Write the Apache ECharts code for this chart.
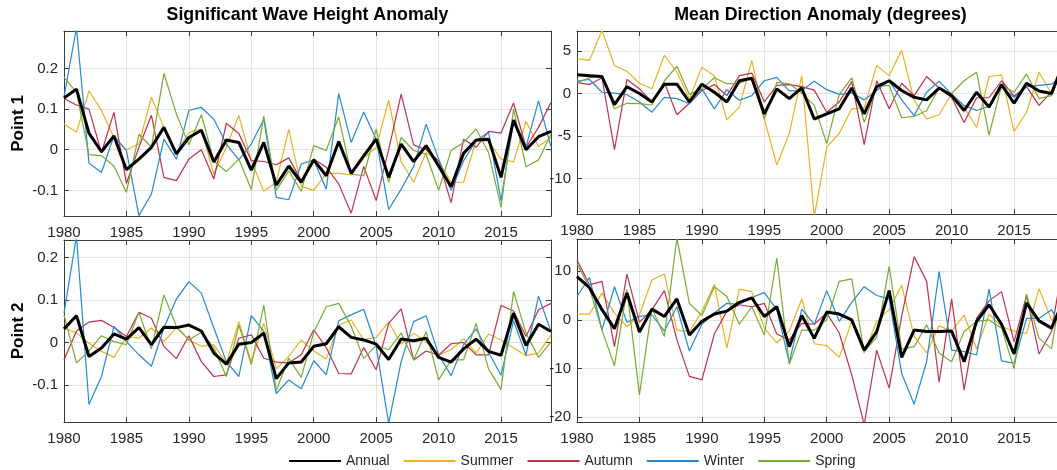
<!DOCTYPE html>
<html><head><meta charset="utf-8">
<script src="https://cdn.jsdelivr.net/npm/echarts@6/dist/echarts.min.js"></script>
<style>html,body{margin:0;padding:0;background:#fff}#c{width:1057px;height:470px}</style>
</head><body><div id="c"></div>
<script>
// ---------------- DATA ----------------
const years = [1980,1981,1982,1983,1984,1985,1986,1987,1988,1989,1990,1991,1992,1993,1994,1995,1996,1997,1998,1999,
               2000,2001,2002,2003,2004,2005,2006,2007,2008,2009,2010,2011,2012,2013,2014,2015,2016,2017,2018,2019];
const seriesNames = ['Annual','Summer','Autumn','Winter','Spring'];
const panelTitles = ['Significant Wave Height Anomaly','Mean Direction Anomaly (degrees)'];
const rowLabels = ['Point 1','Point 2'];
const xTicks = [1980,1985,1990,1995,2000,2005,2010,2015];
const hsTicksP1 = [-0.1,0,0.1,0.2];
const dirTicksP1 = [-10,-5,0,5];
const hsTicksP2 = [-0.1,0,0.1,0.2];
const dirTicksP2 = [-20,-10,0,10];

// Point 1 - Significant wave height anomaly
const hsP1Annual = [0.127,0.149,0.041,-0.005,0.034,-0.049,-0.023,0.006,0.055,-0.01,0.03,0.048,-0.03,0.024,0.018,-0.05,0.018,-0.087,-0.04,-0.08,
                    -0.025,-0.064,0.02,-0.058,-0.015,0.026,-0.068,0.014,-0.029,0.01,-0.04,-0.091,-0.009,0.024,0.026,-0.068,0.073,0.0,0.032,0.045];
const hsP1Summer = [0.063,0.043,0.145,0.096,0.03,0.0,0.014,0.129,0.055,-0.007,0.043,0.05,-0.06,0.006,0.084,-0.027,-0.102,-0.08,0.05,-0.09,
                    -0.1,-0.058,-0.058,-0.062,-0.02,0.005,0.122,-0.03,-0.08,-0.007,-0.027,-0.08,-0.08,0.022,0.022,-0.023,-0.03,0.07,0.008,0.03];
const hsP1Autumn = [0.126,0.11,0.1,-0.007,0.092,-0.083,0.006,0.085,-0.068,-0.076,-0.023,0.0,-0.072,0.065,0.04,-0.027,-0.029,-0.037,-0.02,-0.076,
                    -0.023,-0.043,-0.084,-0.156,-0.041,-0.125,0.0,0.137,0.012,0.0,-0.027,-0.13,0.026,0.006,0.045,0.041,0.115,0.006,0.055,0.116];
const hsP1Winter = [0.13,0.30,-0.033,-0.056,0.034,-0.002,-0.162,-0.109,0.026,-0.023,0.097,0.104,0.075,0.014,-0.025,0.014,0.075,-0.117,-0.123,-0.035,
                    -0.025,-0.097,0.138,0.018,0.093,0.026,-0.147,-0.097,-0.041,0.063,-0.023,-0.1,-0.027,0.022,0.043,-0.125,0.071,0.007,0.12,0.007];
const hsP1Spring = [0.178,0.141,-0.012,-0.015,-0.04,-0.105,0.038,0.006,0.188,0.088,0.012,0.086,-0.027,-0.054,-0.023,-0.098,0.083,-0.1,-0.052,-0.102,
                    0.01,-0.002,0.081,-0.06,-0.064,0.051,-0.08,0.03,-0.002,-0.011,-0.1,-0.002,0.018,0.051,-0.007,-0.142,0.1,-0.042,-0.025,0.038];

// Point 1 - Mean direction anomaly
const dirP1Annual = [2.2,2.1,2.0,-1.3,0.8,0.0,-1.0,1.1,1.1,-1.0,1.1,0.15,-1.0,1.5,1.8,-2.4,0.55,-0.6,0.65,-3.0,
                     -2.4,-1.8,0.65,-2.4,0.8,1.5,0.35,-0.45,-0.75,0.65,-0.25,-2.0,0.15,-1.6,1.05,-1.15,1.2,0.3,0.0,3.8];
const dirP1Summer = [4.1,3.9,7.4,3.3,2.6,1.2,0.55,4.5,2.5,-0.6,3.1,2.1,-3.1,-1.6,3.9,-3.0,-8.4,-4.7,2.1,-14.5,
                     -6.3,-4.7,-1.8,-1.7,3.3,2.1,5.1,-0.8,-3.0,-2.5,0.0,-1.6,-4.0,2.0,2.2,-4.5,-2.2,2.5,0.0,3.8];
const dirP1Autumn = [1.3,1.05,1.85,-6.6,1.65,0.55,-1.0,1.3,-2.5,-1.15,0.35,1.05,-0.25,2.1,2.4,-1.0,0.95,1.05,0.8,0.4,
                     -2.2,-1.0,1.4,-6.0,1.5,-1.8,1.2,-0.25,2.0,0.65,-0.45,-3.4,-0.5,-0.5,1.5,-0.3,0.8,-1.4,0.2,3.5];
const dirP1Winter = [1.45,1.65,0.15,0.05,-0.15,-1.0,-2.2,-0.45,-0.6,-1.2,0.55,-1.8,0.45,-0.8,-0.25,1.5,1.9,0.3,0.35,1.45,
                     0.45,-0.1,0.05,-0.75,0.35,1.5,-0.75,-2.6,0.15,1.45,-0.1,-1.4,-2.0,-1.5,0.75,-0.45,0.8,0.95,1.1,2.2];
const dirP1Spring = [1.3,1.85,2.0,-1.8,-1.15,-1.2,-1.35,1.5,3.2,-0.1,0.55,1.85,1.15,1.2,1.85,-3.0,1.3,1.15,0.05,-1.4,
                     -5.9,-0.1,1.85,-3.4,0.8,0.95,-2.85,-2.7,-2.0,0.65,0.0,1.5,2.5,-4.9,0.95,0.15,2.3,-0.6,-0.25,3.5];

// Point 2 - Significant wave height anomaly
const hsP2Annual = [0.032,0.063,-0.033,-0.013,0.02,0.008,0.035,-0.005,0.036,0.035,0.041,0.027,-0.025,-0.051,-0.004,0.0,0.022,-0.085,-0.048,-0.046,
                    -0.009,-0.003,0.037,0.012,0.006,-0.004,-0.04,0.008,0.004,0.01,-0.035,-0.046,-0.015,0.008,-0.021,-0.03,0.069,-0.007,0.043,0.026];
const hsP2Summer = [0.034,0.022,-0.002,-0.021,-0.035,0.014,0.01,0.034,0.002,0.035,0.006,-0.009,-0.005,-0.048,0.049,-0.046,0.045,-0.062,-0.033,0.006,
                    -0.02,-0.039,0.041,0.053,0.006,0.012,0.048,-0.004,0.022,0.002,-0.03,-0.017,0.009,-0.025,0.02,0.006,-0.013,-0.031,-0.025,0.018];
const hsP2Autumn = [-0.041,0.027,0.048,0.052,0.035,0.014,0.071,0.057,-0.009,-0.038,0.016,-0.045,-0.08,-0.076,0.01,0.018,-0.037,-0.046,-0.048,-0.029,
                    0.03,-0.012,-0.073,-0.074,-0.012,-0.064,0.045,0.079,-0.041,-0.02,-0.03,-0.003,0.0,-0.029,-0.029,0.087,0.074,0.014,0.077,0.092];
const hsP2Winter = [0.069,0.25,-0.146,-0.08,0.038,0.002,-0.029,-0.056,0.034,0.102,0.143,0.116,0.034,-0.045,-0.08,0.063,0.026,-0.12,-0.088,-0.109,
                    -0.043,-0.076,0.051,0.065,0.078,-0.009,-0.19,-0.045,0.049,0.063,-0.029,-0.078,-0.005,0.032,-0.023,-0.077,0.051,-0.03,0.109,0.026];
const hsP2Spring = [0.065,-0.048,-0.02,0.016,0.002,-0.005,0.071,-0.015,0.112,0.038,0.006,0.024,-0.013,-0.08,0.041,-0.052,0.088,-0.113,-0.037,-0.082,
                    0.024,0.084,0.092,0.038,-0.038,-0.007,-0.017,0.022,-0.041,0.026,-0.088,-0.041,-0.041,0.045,-0.062,-0.111,0.12,0.022,-0.035,0.001];

// Point 2 - Mean direction anomaly
const dirP2Annual = [8.9,6.6,2.1,-1.8,5.5,-2.5,2.2,0.7,4.3,-3.1,-0.3,1.2,1.8,3.6,4.5,0.7,2.7,-5.5,0.9,-3.8,
                     1.6,1.2,0.0,-6.2,-2.4,6.0,-7.7,-2.1,-2.4,-2.4,-2.3,-8.6,-0.3,3.1,-0.9,-7.0,3.5,-0.2,-1.7,4.3];
const dirP2Summer = [1.2,1.2,5.5,1.4,-1.4,1.0,8.2,9.4,-2.1,-2.4,1.7,7.3,-5.8,6.3,5.8,-1.7,-4.7,-2.3,4.3,-4.9,
                     -5.3,-7.7,-0.3,-6.8,-0.3,2.1,7.1,-3.4,-6.8,-1.2,-2.4,1.0,-6.0,1.2,-1.4,-2.3,-2.8,6.4,0.0,0.0];
const dirP2Autumn = [12.3,7.2,7.9,-5.5,9.4,-0.5,2.1,6.0,-4.1,-11.6,-12.3,-2.9,1.8,3.1,2.7,3.4,-2.9,-4.1,-0.7,-0.9,
                     1.4,-2.7,-11.3,-21.5,-6.2,-14.0,0.7,13.0,7.9,-12.8,4.3,-14.4,0.3,3.9,5.8,-4.5,5.0,-7.0,-2.4,13.0];
const dirP2Winter = [4.8,8.7,-2.1,6.8,-0.5,0.7,1.0,-2.3,2.7,-6.4,-0.9,1.4,3.4,3.2,4.6,5.6,2.1,-8.7,2.2,-0.9,
                     6.0,-0.3,3.6,6.8,5.0,4.3,-11.0,-17.3,-8.6,9.9,-6.2,-6.5,-7.2,6.3,-8.4,-8.9,0.3,0.3,2.1,-2.4];
const dirP2Spring = [11.6,6.5,-2.1,-9.4,6.2,-15.4,2.4,-3.4,16.8,3.4,0.9,6.8,4.8,-0.9,2.7,-3.1,12.7,-9.1,-2.1,-2.1,
                     0.0,7.9,8.4,-6.5,-3.6,11.0,-6.0,-5.5,-1.0,-6.8,-8.6,-2.4,-0.3,0.0,-1.7,-10.0,5.3,-3.8,-5.9,9.6];

// ---------------- CHART ----------------
const panels = [
  {grid:{left:64, top:31, width:487, height:185}, y:[-0.163,0.292], ticks:hsTicksP1, title:panelTitles[0], row:rowLabels[0],
   data:[hsP1Annual,hsP1Summer,hsP1Autumn,hsP1Winter,hsP1Spring]},
  {grid:{left:577, top:31, width:487, height:183}, y:[-14.17,7.35], ticks:dirTicksP1, title:panelTitles[1], row:null,
   data:[dirP1Annual,dirP1Summer,dirP1Autumn,dirP1Winter,dirP1Spring]},
  {grid:{left:64, top:240, width:487, height:182}, y:[-0.187,0.241], ticks:hsTicksP2, title:null, row:rowLabels[1],
   data:[hsP2Annual,hsP2Summer,hsP2Autumn,hsP2Winter,hsP2Spring]},
  {grid:{left:577, top:239, width:487, height:183}, y:[-20.96,16.6], ticks:dirTicksP2, title:null, row:null,
   data:[dirP2Annual,dirP2Summer,dirP2Autumn,dirP2Winter,dirP2Spring]}
];
const colors = {Annual:'#000000', Summer:'#EDB120', Autumn:'#C0304F', Winter:'#2389D4', Spring:'#77AC30'};
const widths = {Annual:3, Summer:1.2, Autumn:1.2, Winter:1.2, Spring:1.2};
const FONT = 'Liberation Sans, Arial, sans-serif';
const axisCol = '#3a3a3a';
const gridCol = '#e3e3e3';

const grid=[], xAxis=[], yAxis=[], series=[];
panels.forEach((p,i)=>{
  grid.push(Object.assign({containLabel:false, show:false, outerBoundsMode:'none'}, p.grid));
  // bottom x
  xAxis.push({type:'value', gridIndex:i, min:1980, max:2019, position:'bottom',
    axisLine:{show:true, onZero:false, lineStyle:{color:axisCol, width:1}},
    axisTick:{show:true, inside:true, length:5, customValues:xTicks, lineStyle:{color:axisCol}},
    axisLabel:{customValues:xTicks, color:'#262626', fontSize:15, fontFamily:FONT, margin:9, formatter:v=>String(v)},
    splitLine:{show:true, lineStyle:{color:gridCol, width:1}}
  });
  // left y
  yAxis.push({type:'value', gridIndex:i, min:p.y[0], max:p.y[1], position:'left',
    name:p.row||'', nameLocation:'middle', nameRotate:90, nameGap:37,
    nameTextStyle:{fontSize:17, fontWeight:'bold', color:'#000', fontFamily:FONT},
    axisLine:{show:true, onZero:false, lineStyle:{color:axisCol, width:1}},
    axisTick:{show:true, inside:true, length:5, customValues:p.ticks, lineStyle:{color:axisCol}},
    axisLabel:{customValues:p.ticks, color:'#262626', fontSize:15, fontFamily:FONT, margin:6,
      formatter:v=>{const r=Math.round(v*1000)/1000; return r===0?'0':String(r);}},
    splitLine:{show:true, lineStyle:{color:gridCol, width:1}}
  });
});
panels.forEach((p,i)=>{
  // top mirror x (title)
  xAxis.push({type:'value', gridIndex:i, min:1980, max:2019, position:'top',
    name:p.title||'', nameLocation:'middle', nameGap:7,
    nameTextStyle:{fontSize:17.8, fontWeight:'bold', color:'#000', fontFamily:FONT},
    axisLine:{show:true, onZero:false, lineStyle:{color:axisCol, width:1}},
    axisTick:{show:true, inside:true, length:5, customValues:xTicks, lineStyle:{color:axisCol}},
    axisLabel:{show:false}, splitLine:{show:false}
  });
  // right mirror y
  yAxis.push({type:'value', gridIndex:i, min:p.y[0], max:p.y[1], position:'right',
    axisLine:{show:true, onZero:false, lineStyle:{color:axisCol, width:1}},
    axisTick:{show:true, inside:true, length:5, customValues:p.ticks, lineStyle:{color:axisCol}},
    axisLabel:{show:false}, splitLine:{show:false}
  });
});
panels.forEach((p,i)=>{
  // draw seasons first, annual on top
  [1,2,3,4,0].forEach(k=>{
    const nm = seriesNames[k];
    series.push({type:'line', name:nm, xAxisIndex:i, yAxisIndex:i,
      data: years.map((yr,j)=>[yr, p.data[k][j]]),
      symbol:'none', clip:true, z: k===0?5:3,
      lineStyle:{color:colors[nm], width:widths[nm]},
      itemStyle:{color:colors[nm]}
    });
  });
});

const chart = echarts.init(document.getElementById('c'), null, {renderer:'canvas'});
chart.setOption({
  animation:false,
  backgroundColor:'#fff',
  grid, xAxis, yAxis, series,
  legend:{show:true, data:seriesNames, left:288, top:454, padding:0, itemWidth:52, itemHeight:14, itemGap:13,
    selectedMode:false, itemStyle:{opacity:0, borderWidth:0},
    textStyle:{fontSize:14, color:'#262626', fontFamily:FONT}}
});
</script></body></html>
